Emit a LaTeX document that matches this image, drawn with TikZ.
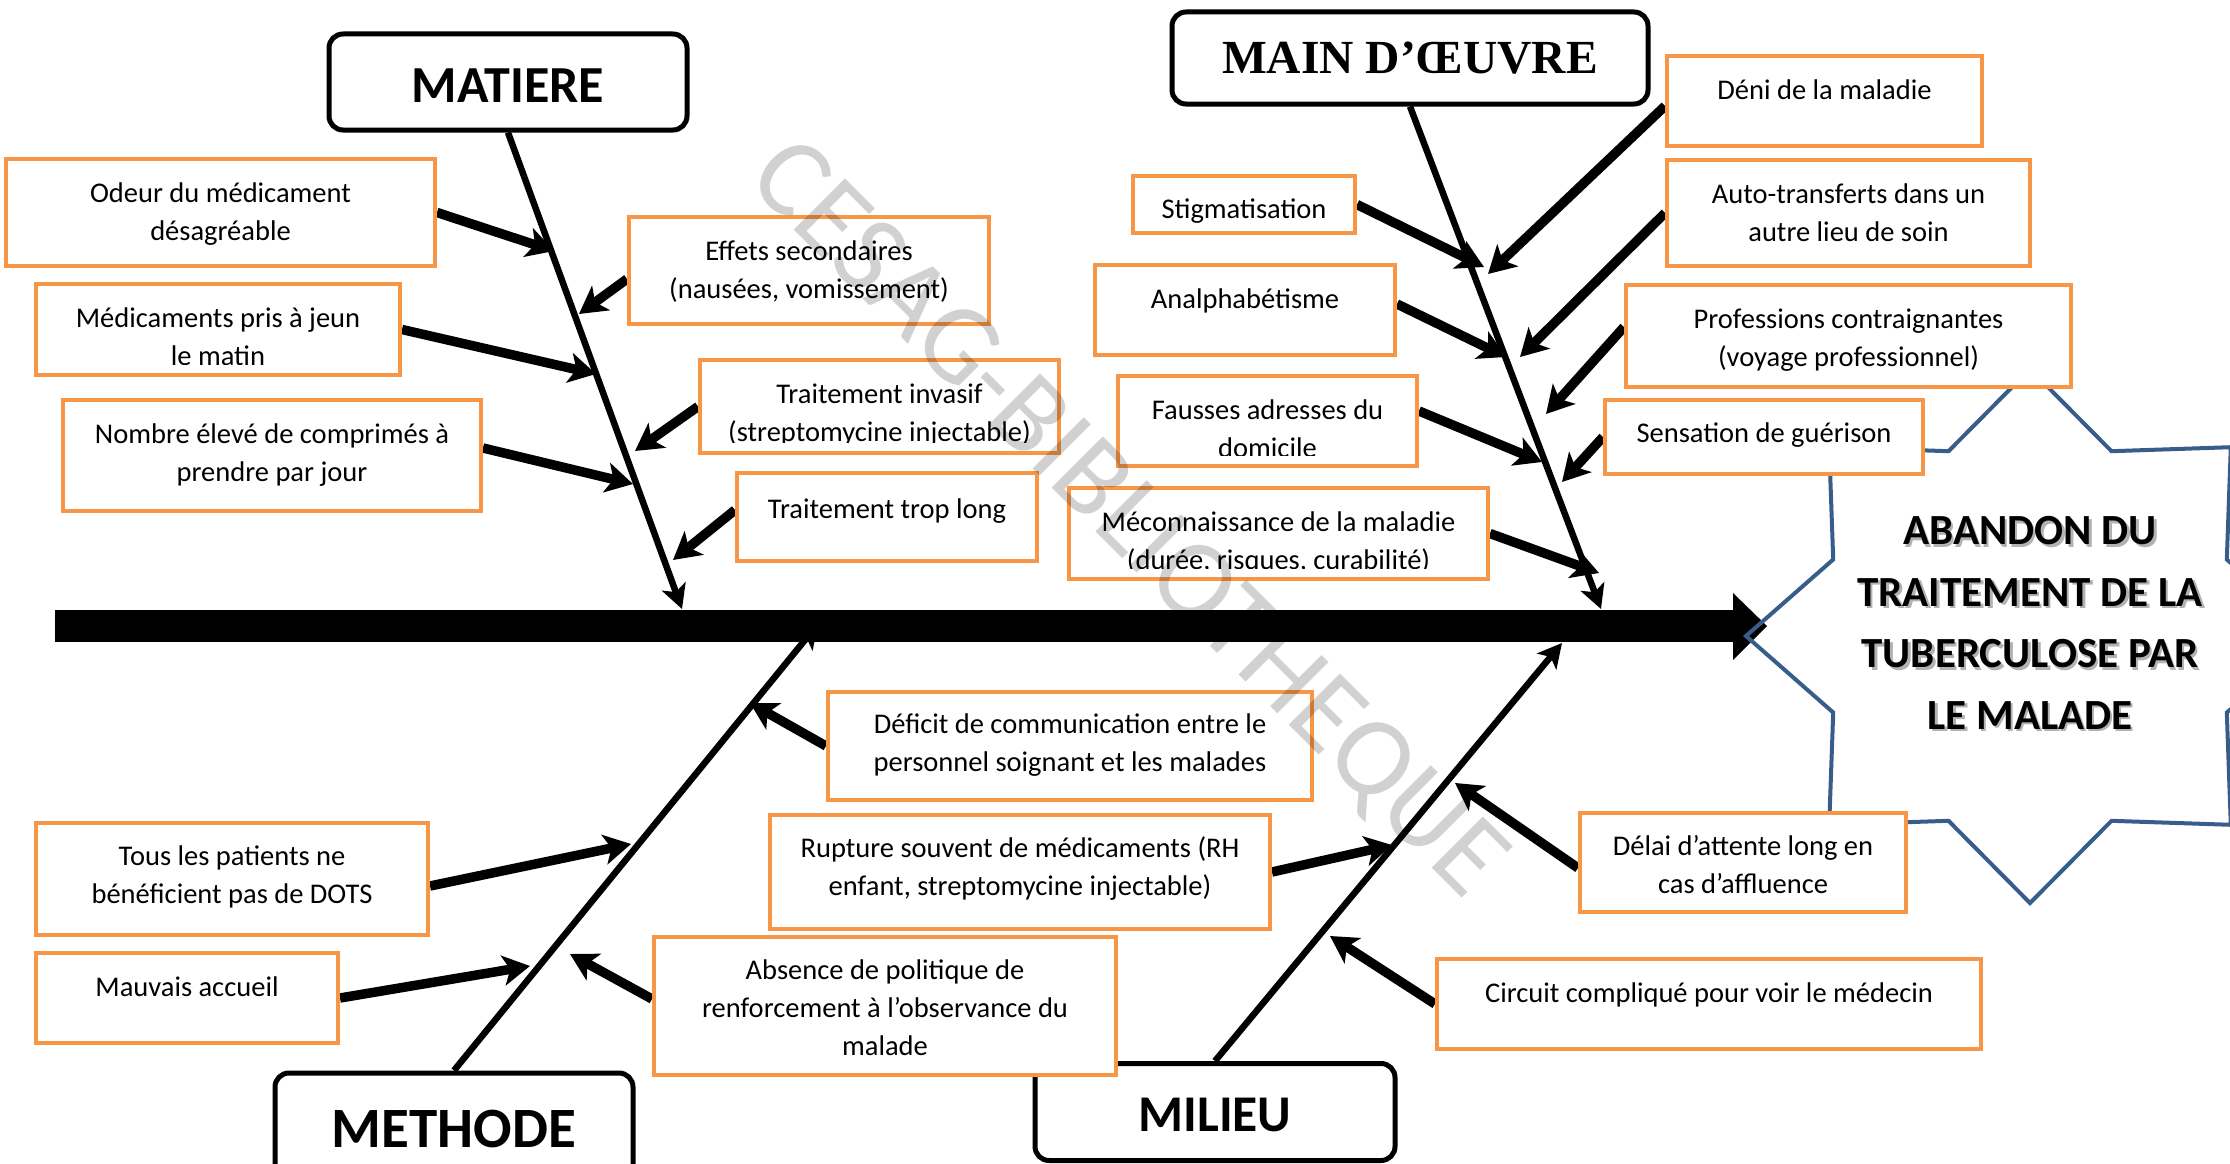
\documentclass[tikz,border=0pt]{standalone}
\usepackage{fontspec}
\setmainfont{Carlito}
\newfontfamily\tnrfont{Liberation Serif}
\usetikzlibrary{arrows.meta,calc}
\definecolor{boxorange}{HTML}{F79646}
\definecolor{starblue}{HTML}{385D8A}
\begin{document}
\begin{tikzpicture}[x=1pt,y=-1pt,
  cbox/.style={draw=boxorange, line width=4pt, fill=white, inner sep=0pt, rectangle},
  ctext/.style={font=\fontsize{28.5}{38}\selectfont, align=center, anchor=north, inner sep=0pt},
  headbox/.style={draw=black, line width=5pt, fill=white, rounded corners=14pt, inner sep=0pt},
  bonearrow/.style={line width=6.5pt, -{Stealth[length=24pt,width=25pt,inset=6pt]}},
  causearrow/.style={line width=9.5pt, -{Stealth[length=27pt,width=30pt,inset=7pt]}},
  startext/.style={font=\bfseries\fontsize{43}{61.5}\selectfont, align=center, anchor=north, inner sep=0pt}]
\useasboundingbox (0,0) rectangle (2230,1164);
\clip (0,0) rectangle (2230,1164);
\fill[white] (0,0) rectangle (2230,1164);

% ---------- coordinates ----------
\coordinate (spL) at (55,626);
\coordinate (spR) at (1733,626);
\coordinate (spTip) at (1767,626);
\coordinate (matE) at (682,609);
\coordinate (mainE) at (1601,609);
\coordinate (methE) at (818,624);
\coordinate (milE) at (1562,643);

\coordinate (cOdeur) at (554,251);
\coordinate (cEffets) at (579,314);
\coordinate (cMed) at (596,374);
\coordinate (cInvasif) at (635,451);
\coordinate (cNombre) at (633,484);
\coordinate (cTrop) at (673,560);
\coordinate (cDeni) at (1488,274);
\coordinate (cStig) at (1484,267);
\coordinate (cAuto) at (1520,357);
\coordinate (cAnalph) at (1506,357);
\coordinate (cProf) at (1546,414);
\coordinate (cFausses) at (1542,462);
\coordinate (cSens) at (1562,482);
\coordinate (cMecon) at (1599,573);
\coordinate (cDeficit) at (750,703);
\coordinate (cRupture) at (1392,845);
\coordinate (cAbsence) at (570,954);
\coordinate (cTous) at (631,844);
\coordinate (cMauvais) at (530,966);
\coordinate (cDelai) at (1455,783);
\coordinate (cCircuit) at (1330,936);

% ---------- boxes (positions) ----------
\path
  node[cbox, minimum width=429pt, minimum height=107pt] (odeur) at (220.5,212.5) {}
  node[cbox, minimum width=360pt, minimum height=107pt] (effets) at (809,270.5) {}
  node[cbox, minimum width=364pt, minimum height=91pt] (med) at (218,329.5) {}
  node[cbox, minimum width=359pt, minimum height=93pt] (invasif) at (879.5,406.5) {}
  node[cbox, minimum width=418pt, minimum height=111pt] (nombre) at (272,455.5) {}
  node[cbox, minimum width=300pt, minimum height=88pt] (troplong) at (887,517) {}
  node[cbox, minimum width=315pt, minimum height=90pt] (deni) at (1824.5,101) {}
  node[cbox, minimum width=363pt, minimum height=106pt] (auto) at (1848.5,213) {}
  node[cbox, minimum width=445pt, minimum height=102pt] (prof) at (1848.5,336) {}
  node[cbox, minimum width=318pt, minimum height=74pt] (sens) at (1764,437) {}
  node[cbox, minimum width=222pt, minimum height=57pt] (stig) at (1244,204.5) {}
  node[cbox, minimum width=300pt, minimum height=90pt] (analph) at (1245,310) {}
  node[cbox, minimum width=299pt, minimum height=90pt] (fausses) at (1267.5,421) {}
  node[cbox, minimum width=419pt, minimum height=91pt] (mecon) at (1278.5,533.5) {}
  node[cbox, minimum width=484pt, minimum height=108pt] (deficit) at (1070,746) {}
  node[cbox, minimum width=500pt, minimum height=114pt] (rupture) at (1020,872) {}
  node[cbox, minimum width=462pt, minimum height=138pt] (absence) at (885,1006) {}
  node[cbox, minimum width=392pt, minimum height=112pt] (tous) at (232,879) {}
  node[cbox, minimum width=302pt, minimum height=90pt] (mauvais) at (187,998) {}
  node[cbox, minimum width=326pt, minimum height=99pt] (delai) at (1743,862.5) {}
  node[cbox, minimum width=544pt, minimum height=90pt] (circuit) at (1709,1004) {};

% ---------- head boxes ----------
\node[headbox, minimum width=358pt, minimum height=96pt, text height=40pt, text depth=0pt, font=\bfseries\fontsize{52}{60}\selectfont] (mat) at (508,82) {MATIERE};
\node[headbox, minimum width=476pt, minimum height=92pt, font=\tnrfont\bfseries\fontsize{47.5}{56}\selectfont] (main) at (1410,58) {MAIN D’ŒUVRE};
\node[headbox, minimum width=358pt, minimum height=112pt, font=\bfseries\fontsize{57}{66}\selectfont] (meth) at (454,1129) {METHODE};
\node[headbox, minimum width=360pt, minimum height=97pt, text height=39.5pt, text depth=0pt, font=\bfseries\fontsize{51.5}{60}\selectfont] (mil) at (1215,1112) {MILIEU};

% ---------- bones ----------
\draw[bonearrow] (mat.south) -- (matE);
\draw[bonearrow] (main.south) -- (mainE);
\draw[bonearrow] (meth.north) -- (methE);
\draw[bonearrow] (mil.north) -- (milE);

% ---------- cause arrows ----------
\draw[causearrow] (odeur.east) -- (cOdeur);
\draw[causearrow] ([yshift=-8.5pt]effets.west) -- (cEffets);
\draw[causearrow] (med.east) -- (cMed);
\draw[causearrow] (invasif.west) -- (cInvasif);
\draw[causearrow] ([yshift=7.5pt]nombre.east) -- (cNombre);
\draw[causearrow] ([yshift=7pt]troplong.west) -- (cTrop);
\draw[causearrow] ([yshift=-5pt]deni.west) -- (cDeni);
\draw[causearrow] (stig.east) -- (cStig);
\draw[causearrow] (auto.west) -- (cAuto);
\draw[causearrow] ([yshift=6pt]analph.east) -- (cAnalph);
\draw[causearrow] ([yshift=9pt]prof.west) -- (cProf);
\draw[causearrow] ([yshift=10pt]fausses.east) -- (cFausses);
\draw[causearrow] (sens.west) -- (cSens);
\draw[causearrow] (mecon.east) -- (cMecon);
\draw[causearrow] (deficit.west) -- (cDeficit);
\draw[causearrow] (rupture.east) -- (cRupture);
\draw[causearrow] ([yshift=7pt]absence.west) -- (cAbsence);
\draw[causearrow] ([yshift=-7pt]tous.east) -- (cTous);
\draw[causearrow] (mauvais.east) -- (cMauvais);
\draw[causearrow] ([yshift=-5.5pt]delai.west) -- (cDelai);
\draw[causearrow] (circuit.west) -- (cCircuit);

% ---------- spine ----------
\draw[line width=32pt] (spL) -- (spR);
\fill (1733,593) -- (spTip) -- (1733,660) -- cycle;

% ---------- effect star ----------
\draw[starblue, line width=4pt, line join=miter]
  (2314,636) -- (2226.8,712.5) -- (2230.8,824.8) -- (2111.5,820.8) -- (2030,903)
  -- (1948.5,820.8) -- (1829.2,824.8) -- (1833.2,712.5) -- (1746,636)
  -- (1833.2,559.5) -- (1829.2,447.2) -- (1948.5,451.2) -- (2030,369)
  -- (2111.5,451.2) -- (2230.8,447.2) -- (2226.8,559.5) -- cycle;
\node[startext, text=black!30] (effectshadow) at (2032.5,504) {\strut ABANDON DU\\\strut TRAITEMENT DE LA\\\strut TUBERCULOSE PAR\\\strut LE MALADE};
\node[startext] (effect) at (2030,501.5) {\strut ABANDON DU\\\strut TRAITEMENT DE LA\\\strut TUBERCULOSE PAR\\\strut LE MALADE};

% ---------- boxes redrawn on top of star and arrows ----------
\path
  node[cbox, minimum width=429pt, minimum height=107pt] at (odeur) {}
  node[cbox, minimum width=360pt, minimum height=107pt] at (effets) {}
  node[cbox, minimum width=364pt, minimum height=91pt] at (med) {}
  node[cbox, minimum width=359pt, minimum height=93pt] at (invasif) {}
  node[cbox, minimum width=418pt, minimum height=111pt] at (nombre) {}
  node[cbox, minimum width=300pt, minimum height=88pt] at (troplong) {}
  node[cbox, minimum width=315pt, minimum height=90pt] at (deni) {}
  node[cbox, minimum width=363pt, minimum height=106pt] at (auto) {}
  node[cbox, minimum width=445pt, minimum height=102pt] at (prof) {}
  node[cbox, minimum width=318pt, minimum height=74pt] at (sens) {}
  node[cbox, minimum width=222pt, minimum height=57pt] at (stig) {}
  node[cbox, minimum width=300pt, minimum height=90pt] at (analph) {}
  node[cbox, minimum width=299pt, minimum height=90pt] at (fausses) {}
  node[cbox, minimum width=419pt, minimum height=91pt] at (mecon) {}
  node[cbox, minimum width=484pt, minimum height=108pt] at (deficit) {}
  node[cbox, minimum width=500pt, minimum height=114pt] at (rupture) {}
  node[cbox, minimum width=462pt, minimum height=138pt] at (absence) {}
  node[cbox, minimum width=392pt, minimum height=112pt] at (tous) {}
  node[cbox, minimum width=302pt, minimum height=90pt] at (mauvais) {}
  node[cbox, minimum width=326pt, minimum height=99pt] at (delai) {}
  node[cbox, minimum width=544pt, minimum height=90pt] at (circuit) {};

% ---------- box texts ----------
\node[ctext] (odeurT) at ([yshift=-19pt]odeur.north) {\strut Odeur du médicament\\\strut désagréable};
\node[ctext] (effetsT) at ([yshift=-19pt]effets.north) {\strut Effets secondaires\\\strut (nausées, vomissement)};
\begin{scope}
  \clip ([yshift=13pt]med.south west) rectangle (med.north east);
  \node[ctext] (medT) at ([yshift=-19pt]med.north) {\strut Médicaments pris à jeun\\\strut le matin};
\end{scope}
\begin{scope}
  \clip ([yshift=13pt]invasif.south west) rectangle (invasif.north east);
  \node[ctext] (invasifT) at ([yshift=-19pt]invasif.north) {\strut Traitement invasif\\\strut (streptomycine injectable)};
\end{scope}
\node[ctext] (nombreT) at ([yshift=-19pt]nombre.north) {\strut Nombre élevé de comprimés à\\\strut prendre par jour};
\node[ctext] (troplongT) at ([yshift=-21pt]troplong.north) {\strut Traitement trop long};
\node[ctext] (deniT) at ([yshift=-19pt]deni.north) {\strut Déni de la maladie};
\node[ctext] (autoT) at ([yshift=-19pt]auto.north) {\strut Auto-transferts dans un\\\strut autre lieu de soin};
\node[ctext] (profT) at ([yshift=-19pt]prof.north) {\strut Professions contraignantes\\\strut (voyage professionnel)};
\node[ctext] (sensT) at ([yshift=-18pt]sens.north) {\strut Sensation de guérison};
\node[ctext] (stigT) at ([yshift=-18pt]stig.north) {\strut Stigmatisation};
\node[ctext] (analphT) at ([yshift=-19pt]analph.north) {\strut Analphabétisme};
\begin{scope}
  \clip ([yshift=13pt]fausses.south west) rectangle (fausses.north east);
  \node[ctext] (faussesT) at ([yshift=-19pt]fausses.north) {\strut Fausses adresses du\\\strut domicile};
\end{scope}
\begin{scope}
  \clip ([yshift=13pt]mecon.south west) rectangle (mecon.north east);
  \node[ctext] (meconT) at ([yshift=-19pt]mecon.north) {\strut Méconnaissance de la maladie\\\strut (durée, risques, curabilité)};
\end{scope}
\node[ctext] (deficitT) at ([yshift=-17pt]deficit.north) {\strut Déficit de communication entre le\\\strut personnel soignant et les malades};
\node[ctext] (ruptureT) at ([yshift=-18pt]rupture.north) {\strut Rupture souvent de médicaments (RH\\\strut enfant, streptomycine injectable)};
\node[ctext] (absenceT) at ([yshift=-18pt]absence.north) {\strut Absence de politique de\\\strut renforcement à l’observance du\\\strut malade};
\node[ctext] (tousT) at ([yshift=-18pt]tous.north) {\strut Tous les patients ne\\\strut bénéficient pas de DOTS};
\node[ctext] (mauvaisT) at ([yshift=-19pt]mauvais.north) {\strut Mauvais accueil};
\node[ctext] (delaiT) at ([yshift=-18pt]delai.north) {\strut Délai d’attente long en\\\strut cas d’affluence};
\node[ctext] (circuitT) at ([yshift=-19pt]circuit.north) {\strut Circuit compliqué pour voir le médecin};

% ---------- watermark ----------
\node[rotate=-45, inner sep=0pt, font=\fontsize{113}{121}\selectfont, text=black, text opacity=0.18] (wm) at (1126,521) {CESAG-BIBLIOTHEQUE};
\end{tikzpicture}
\end{document}
